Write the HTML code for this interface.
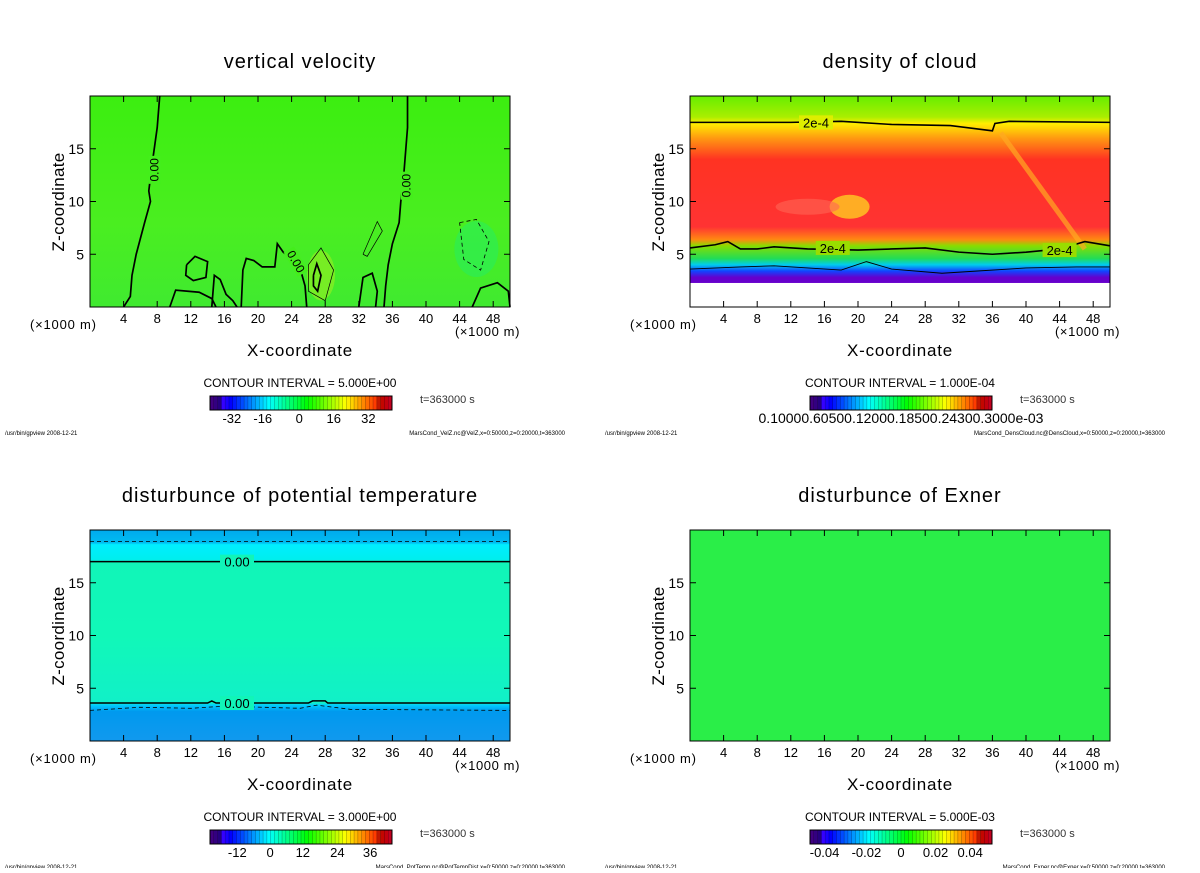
<!DOCTYPE html>
<html><head><meta charset="utf-8"><style>
body{margin:0;background:#fff;}
svg text{font-family:"Liberation Sans",sans-serif;}
</style></head><body>
<svg id="fig" width="1200" height="868" viewBox="0 0 1200 868">
<defs>
<linearGradient id="gTL" x1="0" y1="0" x2="0" y2="1">
<stop offset="0" stop-color="#3cee10"/><stop offset="0.6" stop-color="#4aee20"/><stop offset="1" stop-color="#40ea30"/></linearGradient>
<linearGradient id="gTR" x1="0" y1="0" x2="0" y2="1">
<stop offset="0" stop-color="#66ee00"/><stop offset="0.1" stop-color="#aaee00"/><stop offset="0.13" stop-color="#ffee00"/><stop offset="0.2" stop-color="#ff9911"/><stop offset="0.3" stop-color="#ff3322"/><stop offset="0.62" stop-color="#ff3333"/><stop offset="0.68" stop-color="#ff8811"/><stop offset="0.71" stop-color="#88dd00"/><stop offset="0.77" stop-color="#22dd55"/><stop offset="0.8" stop-color="#00ccee"/><stop offset="0.83" stop-color="#1144ff"/><stop offset="0.86" stop-color="#6600cc"/><stop offset="0.885" stop-color="#6600cc"/><stop offset="0.886" stop-color="#ffffff"/><stop offset="1" stop-color="#ffffff"/></linearGradient>
<linearGradient id="gBL" x1="0" y1="0" x2="0" y2="1">
<stop offset="0" stop-color="#00aaee"/><stop offset="0.06" stop-color="#00bbf0"/><stop offset="0.07" stop-color="#00eeff"/><stop offset="0.14" stop-color="#00eeee"/><stop offset="0.15" stop-color="#11f5b8"/><stop offset="0.5" stop-color="#11f8b8"/><stop offset="0.82" stop-color="#11f0c8"/><stop offset="0.83" stop-color="#00ccff"/><stop offset="0.86" stop-color="#0099ee"/><stop offset="1" stop-color="#1199ee"/></linearGradient>
</defs>
<g id="root"></g>
</svg>
<script>
// Data arrays (x in km 0..50, z in km 0..20)
const xTicks=[4,8,12,16,20,24,28,32,36,40,44,48];
const zTicks=[5,10,15];
const titles=["vertical velocity","density of cloud","disturbunce of potential temperature","disturbunce of Exner"];
const intervals=["5.000E+00","1.000E-04","3.000E+00","5.000E-03"];
const footers=["MarsCond_VelZ.nc@VelZ,x=0:50000,z=0:20000,t=363000","MarsCond_DensCloud.nc@DensCloud,x=0:50000,z=0:20000,t=363000","MarsCond_PotTemp.nc@PotTempDist,x=0:50000,z=0:20000,t=363000","MarsCond_Exner.nc@Exner,x=0:50000,z=0:20000,t=363000"];
const cbLabels=[["-32","-16","0","16","32"],["0.10000.60500.12000.18500.24300.3000e-03"],["-12","0","12","24","36"],["-0.04","-0.02","0","0.02","0.04"]];
const cbLabelPos=[[0.12,0.29,0.49,0.68,0.87],[0.5],[0.15,0.33,0.51,0.7,0.88],[0.08,0.31,0.5,0.69,0.88]];
// contours panel 0
const vvZeroLeft=[[8.3,20],[8,17],[7.3,13],[7,11],[7.2,10],[6.5,8],[5.5,5],[5,3],[4.8,1],[4,0]];
const vvZeroRight=[[37.8,20],[37.8,17],[37.5,14],[37.3,12],[37,10],[36.8,8],[36,6],[35.5,4],[35.2,2],[35,0]];
const vvMount=[[18,0],[18.2,3.5],[18.6,4.6],[19.5,4.4],[20.5,3.8],[22,3.8],[22.3,6],[23,5.2],[24,4.6],[25,3.7],[25.6,2],[25.8,0]];
const vvBlob1=[[11.5,4],[12.5,4.8],[14,4.3],[13.8,2.8],[12.3,2.5],[11.4,3]];
const vvBlob2=[[26.6,3],[27,4.1],[27.5,3],[27.1,1.5],[26.6,2]];
const vvThin1=[[26,4],[27.5,5.6],[29,3.5],[28,0.6],[26,1.5],[26,4]];
const vvThin2=[[32.5,5],[34.2,8.1],[34.8,7.2],[33,4.8],[32.5,5]];
const vvDash=[[44,8],[46,8.3],[47.5,6.2],[46.5,3.5],[44.5,4.5],[44,8]];
const vvBR=[[45.5,0],[46.5,1.8],[48.5,2.3],[49.8,1.5],[50,0]];
const vvBL2=[[9.5,0],[10.2,1.6],[13,1.4],[14.5,0.8],[15,0]];
const vvBL3=[[14.5,0],[14.8,3],[15.5,2.6],[16.2,1.2],[17,0.6],[17.5,0]];
const vvBL4=[[32,0],[32.5,2.8],[33.6,3.2],[34.2,1.5],[34,0]];
// panel 1
const dcTop=[[0,17.5],[12,17.5],[18,17.6],[24,17.3],[31,17.2],[36,16.7],[36.3,17.4],[38,17.6],[50,17.5]];
const dcMid=[[0,5.6],[3,5.9],[4.5,6.2],[6,5.5],[8,5.5],[10,5.7],[14,5.5],[20,5.4],[24,5.5],[28,5.6],[32,5.2],[36,5],[40,5.2],[44,5.5],[47,6.2],[50,5.8]];
const dcLow=[[0,3.6],[6,3.8],[10,3.9],[14,3.7],[18,3.5],[21,4.3],[24,3.6],[30,3.2],[34,3.4],[40,3.7],[46,3.8],[50,3.8]];
// panel 2
const ptSolidTop=[[0,17],[50,17]];
const ptDashTop=[[0,18.9],[50,18.9]];
const ptSolidLow=[[0,3.6],[14,3.6],[14.5,3.8],[15,3.6],[26,3.6],[26.5,3.8],[28,3.8],[28.3,3.6],[50,3.6]];
const ptDashLow=[[0,2.9],[6,3.2],[12,3.1],[16,3.3],[25,3.1],[27,3.4],[31,3],[50,2.9]];

const panels=[{ox:0,oy:0},{ox:600,oy:0},{ox:0,oy:434},{ox:600,oy:434}];
const NS="http://www.w3.org/2000/svg";
const root=document.getElementById('root');
function mk(tag,attrs,parent){const e=document.createElementNS(NS,tag);for(const k in attrs)e.setAttribute(k,attrs[k]);(parent||root).appendChild(e);return e;}
function txt(s,x,y,size,parent,anchor){const t=mk('text',{x:x,y:y,'font-size':size,'text-anchor':anchor||'middle',fill:'#000'},parent);t.textContent=s;return t;}

panels.forEach((p,i)=>{
  const L=90+p.ox,R=510+p.ox,T=96+p.oy,B=307+p.oy;
  const sx=v=>L+v/50*(R-L), sz=v=>B-v/20*(B-T);
  const g=mk('g',{});
  
  
  const tt=txt(titles[i],300+p.ox,68+p.oy,20,g);
  tt.setAttribute('letter-spacing','1');
  
  
  const fills=['url(#gTL)','url(#gTR)','url(#gBL)','#2aee48'];
  const bg=mk('rect',{x:L,y:T,width:R-L,height:B-T,fill:fills[i]},g);
  
  
  const path=(pts,attrs)=>{const e=mk('polyline',Object.assign({points:pts.map(q=>sx(q[0])+','+sz(q[1])).join(' '),fill:'none',stroke:'#000'},attrs),g);
    
    return e;};
  if(i===0){
    mk('ellipse',{cx:sx(27.5),cy:sz(3),rx:14,ry:25,fill:'#99ee22',opacity:0.6},g);
    mk('ellipse',{cx:sx(46),cy:sz(5.5),rx:22,ry:28,fill:'#22ee66',opacity:0.5},g);
    [vvZeroLeft,vvZeroRight,vvMount,vvBlob1.concat([vvBlob1[0]]),vvBlob2.concat([vvBlob2[0]]),vvBR,vvBL2,vvBL3,vvBL4].forEach(c=>path(c,{'stroke-width':1.7}));
    path(vvThin1,{'stroke-width':0.7});path(vvThin2,{'stroke-width':0.7});
    path(vvDash,{'stroke-width':0.8,'stroke-dasharray':'4,3'});
    [[7.7,13,-90],[37.7,11.5,-90],[24.5,4.3,60]].forEach(l=>{mk('rect',{x:sx(l[0])-6,y:sz(l[1])-14,width:12,height:28,fill:'#44ee1c',transform:`rotate(${l[2]+90} ${sx(l[0])} ${sz(l[1])})`},g);const t=txt('0.00',sx(l[0]),sz(l[1])+4,12,g);t.setAttribute('transform',`rotate(${l[2]} ${sx(l[0])} ${sz(l[1])})`);});
  }
  if(i===1){
    mk('ellipse',{cx:sx(19),cy:sz(9.5),rx:20,ry:12,fill:'#ffcc22',opacity:0.8},g);
    mk('ellipse',{cx:sx(14),cy:sz(9.5),rx:32,ry:8,fill:'#ff6655',opacity:0.6},g);
    mk('line',{x1:sx(37),y1:sz(16.5),x2:sx(47),y2:sz(5.5),stroke:'#ffaa22','stroke-width':5,opacity:0.7},g);
    [dcTop,dcMid,dcLow].forEach(c=>path(c,{'stroke-width':c===dcLow?0.9:1.6}));
    [[15,17.5],[17,5.6],[44,5.4]].forEach(l=>{mk('rect',{x:sx(l[0])-17,y:sz(l[1])-7,width:34,height:14,fill:l[1]>10?'#ddee00':'#99dd00'},g);txt('2e-4',sx(l[0]),sz(l[1])+5,13,g);});
  }
  if(i===2){
    path(ptSolidTop,{'stroke-width':1.5});path(ptSolidLow,{'stroke-width':1.5});
    path(ptDashTop,{'stroke-width':0.8,'stroke-dasharray':'4,3'});path(ptDashLow,{'stroke-width':0.8,'stroke-dasharray':'4,3'});
    [[17.5,17],[17.5,3.6]].forEach(l=>{mk('rect',{x:sx(l[0])-17,y:sz(l[1])-7,width:34,height:14,fill:'#11f5b8'},g);txt('0.00',sx(l[0]),sz(l[1])+5,13,g);});
  }
  mk('rect',{x:L,y:T,width:R-L,height:B-T,fill:'none',stroke:'#000','stroke-width':1},g);
  xTicks.forEach(v=>{mk('line',{x1:sx(v),y1:B,x2:sx(v),y2:B-6,stroke:'#000'},g);mk('line',{x1:sx(v),y1:T,x2:sx(v),y2:T+6,stroke:'#000'},g);
    const t=txt(String(v),sx(v),B+16,13,g);});
  zTicks.forEach(v=>{mk('line',{x1:L,y1:sz(v),x2:L+6,y2:sz(v),stroke:'#000'},g);mk('line',{x1:R,y1:sz(v),x2:R-6,y2:sz(v),stroke:'#000'},g);
    const t=txt(String(v),L-6,sz(v)+5,14,g,'end');});
  txt('(×1000 m)',30+p.ox,329+p.oy,13,g,'start').setAttribute('letter-spacing','0.8');
  txt('(×1000 m)',455+p.ox,336+p.oy,13,g,'start').setAttribute('letter-spacing','0.6');
  const xt=txt('X-coordinate',300+p.ox,356+p.oy,17,g);
  xt.setAttribute('letter-spacing','0.8');
  
  const yt=txt('Z-coordinate',0,0,17,g);yt.setAttribute('transform',`translate(${64+p.ox},${202+p.oy}) rotate(-90)`);
  yt.setAttribute('letter-spacing','0.3');
  
  txt('CONTOUR INTERVAL = '+intervals[i],300+p.ox,387+p.oy,12,g);
  // colorbar
  const cb=mk('g',{},g);
  
  
  const cx0=210+p.ox,cw=182,cy=396+p.oy,ch=14,n=48;
  for(let k=0;k<n;k++){const f=k/(n-1);let hue=270-f*280;let light=f<0.05?25:(f>0.92?38:50);
    mk('rect',{x:cx0+k*cw/n,y:cy,width:cw/n+0.3,height:ch,fill:`hsl(${(hue+360)%360},100%,${light}%)`},cb);
    mk('line',{x1:cx0+k*cw/n,y1:cy,x2:cx0+k*cw/n,y2:cy+ch,stroke:'#000','stroke-width':0.4,opacity:0.5},cb);}
  mk('rect',{x:cx0,y:cy,width:cw,height:ch,fill:'none',stroke:'#000'},cb);
  cbLabels[i].forEach((s,k)=>{txt(s,cx0+cbLabelPos[i][k]*cw,cy+ch+13,i===1?14:13,cb);});
  txt('t=363000 s',420+p.ox,403+p.oy,11,g,'start').setAttribute('fill','#333');
  txt('/usr/bin/gpview  2008-12-21',5+p.ox,435+p.oy,6,g,'start');
  txt(footers[i],565+p.ox,435+p.oy,6,g,'end');
});
</script>
</body></html>
